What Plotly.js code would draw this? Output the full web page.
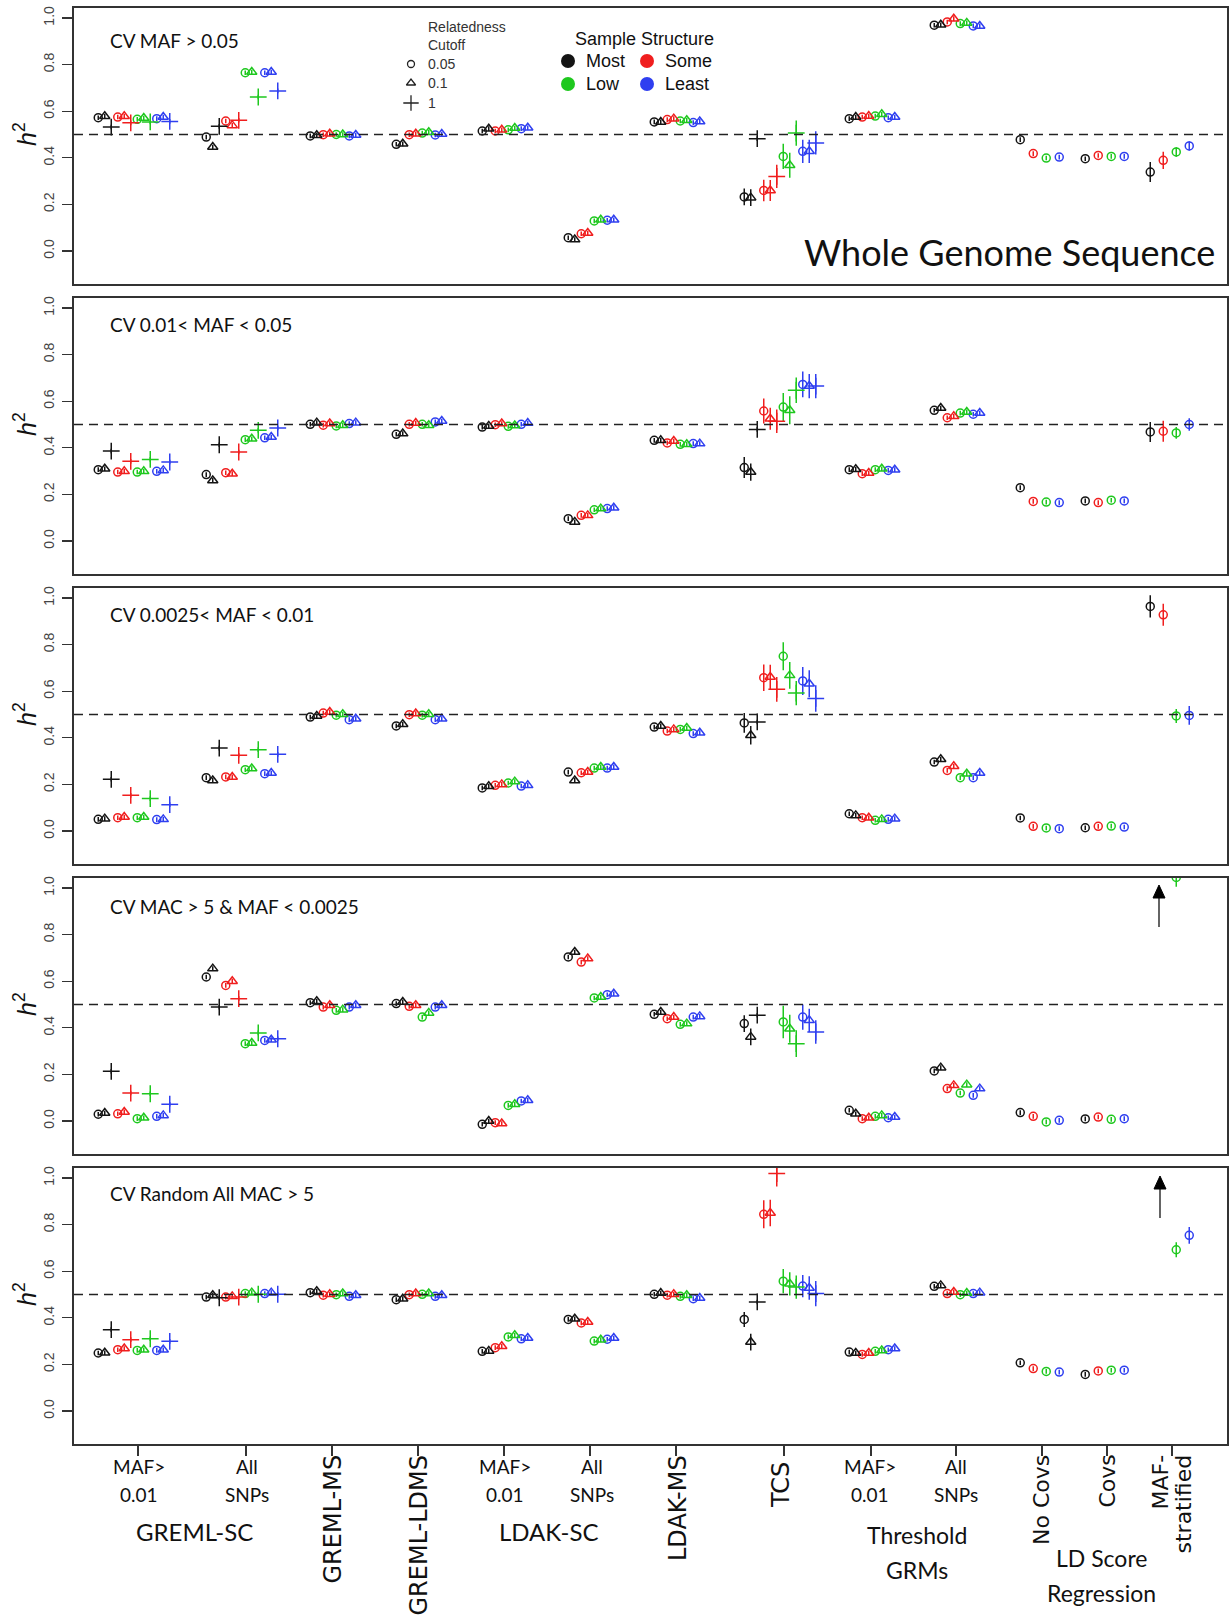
<!DOCTYPE html>
<html><head><meta charset="utf-8">
<script src="https://cdn.plot.ly/plotly-3.0.1.min.js"></script>
<style>body{margin:0;background:#fff}#chart{width:1229px;height:1615px}</style>
</head><body><div id="chart"></div><script>
// ---------------- DATA ----------------
const methods = ["GREML-SC MAF>0.01","GREML-SC All SNPs","GREML-MS","GREML-LDMS","LDAK-SC MAF>0.01","LDAK-SC All SNPs","LDAK-MS","TCS","Threshold MAF>0.01","Threshold All SNPs","LDSC No Covs","LDSC Covs","LDSC MAF-stratified"];
const structures = ["Most","Some","Low","Least"];
const cutoffs = ["0.05","0.1","1"];
const panelTitles = ["CV MAF &gt; 0.05","CV 0.01&lt; MAF &lt; 0.05","CV 0.0025&lt; MAF &lt; 0.01","CV MAC &gt; 5 &amp; MAF &lt; 0.0025","CV Random All MAC &gt; 5"];
const yTickVals = [0,0.2,0.4,0.6,0.8,1.0];
const yTickText = ["0.0","0.2","0.4","0.6","0.8","1.0"];
const trueH2 = 0.5;

// values: rows = methods, columns = [Most, Some, Low, Least]
const p1Circle = [[0.572,0.575,0.565,0.568],[0.489,0.558,0.765,0.765],[0.494,0.499,0.5,0.494],[0.458,0.499,0.506,0.498],[0.515,0.515,0.52,0.525],[0.057,0.074,0.129,0.132],[0.554,0.564,0.558,0.551],[0.232,0.26,0.406,0.428],[0.568,0.575,0.579,0.572],[0.969,0.983,0.976,0.966],[0.478,0.418,0.399,0.403],[0.396,0.41,0.406,0.406],[0.339,0.389,0.425,0.451]];
const p1Tri = [[0.578,0.578,0.571,0.575],[0.446,0.539,0.768,0.768],[0.497,0.503,0.5,0.498],[0.46,0.503,0.51,0.502],[0.525,0.52,0.528,0.529],[0.049,0.077,0.134,0.134],[0.554,0.568,0.561,0.556],[0.229,0.26,0.368,0.428],[0.575,0.579,0.587,0.575],[0.971,0.997,0.979,0.966],null,null,null];
const p1Plus = [[0.532,0.55,0.554,0.556],[0.535,0.561,0.661,0.687],null,null,null,null,null,[0.482,0.32,0.506,0.464],null,null,null,null,null];
const p1TcsErr = [[0.036,0.046,0.054,0.05],[0.036,0.045,0.054,0.05],[0.01,0.05,0.054,0.05]];
const p1StratErr = [0.043,0.037,0.02,0.02];

const p2Circle = [[0.306,0.296,0.296,0.299],[0.285,0.293,0.435,0.443],[0.501,0.497,0.494,0.504],[0.458,0.501,0.501,0.511],[0.489,0.499,0.492,0.501],[0.096,0.11,0.134,0.139],[0.432,0.421,0.415,0.418],[0.315,0.558,0.575,0.672],[0.306,0.289,0.306,0.303],[0.561,0.529,0.549,0.544],[0.229,0.17,0.167,0.165],[0.172,0.165,0.175,0.172],[0.468,0.471,0.464,0.5]];
const p2Tri = [[0.31,0.299,0.299,0.303],[0.26,0.289,0.439,0.446],[0.508,0.504,0.497,0.508],[0.461,0.506,0.497,0.515],[0.494,0.504,0.496,0.506],[0.082,0.11,0.139,0.143],[0.432,0.429,0.415,0.418],[0.296,0.525,0.561,0.665],[0.308,0.292,0.31,0.306],[0.571,0.535,0.554,0.549],null,null,null];
const p2Plus = [[0.386,0.342,0.35,0.339],[0.413,0.382,0.475,0.485],null,null,null,null,null,[0.479,0.514,0.647,0.665],null,null,null,null,null];
const p2TcsErr = [[0.045,0.054,0.06,0.055],[0.037,0.047,0.06,0.052],[0.01,0.05,0.055,0.052]];
const p2StratErr = [0.043,0.045,0.025,0.027];

const p3Circle = [[0.05,0.057,0.057,0.049],[0.229,0.232,0.263,0.246],[0.489,0.506,0.497,0.478],[0.451,0.499,0.497,0.478],[0.185,0.196,0.206,0.193],[0.253,0.25,0.27,0.27],[0.446,0.429,0.436,0.418],[0.464,0.658,0.75,0.644],[0.074,0.057,0.046,0.05],[0.296,0.26,0.229,0.229],[0.056,0.02,0.013,0.01],[0.014,0.02,0.021,0.017],[0.964,0.928,0.494,0.496]];
const p3Tri = [[0.053,0.06,0.06,0.05],[0.217,0.232,0.268,0.249],[0.494,0.511,0.501,0.482],[0.458,0.504,0.501,0.482],[0.192,0.2,0.212,0.196],[0.217,0.253,0.275,0.275],[0.451,0.436,0.442,0.422],[0.411,0.661,0.668,0.632],[0.067,0.057,0.05,0.053],[0.308,0.278,0.246,0.249],null,null,null];
const p3Plus = [[0.222,0.153,0.139,0.113],[0.356,0.325,0.349,0.329],null,null,null,null,null,[0.468,0.608,0.592,0.569],null,null,null,null,null];
const p3TcsErr = [[0.042,0.057,0.06,0.06],[0.04,0.053,0.057,0.058],[0.01,0.053,0.052,0.057]];
const p3StratErr = [0.048,0.047,0.03,0.04];

const p4Circle = [[0.029,0.031,0.01,0.02],[0.618,0.582,0.332,0.346],[0.508,0.489,0.475,0.489],[0.504,0.492,0.446,0.489],[-0.014,-0.007,0.067,0.086],[0.704,0.682,0.528,0.542],[0.458,0.439,0.415,0.446],[0.418,null,0.425,0.446],[0.046,0.01,0.02,0.014],[0.215,0.139,0.12,0.11],[0.036,0.02,-0.004,0.003],[0.009,0.017,0.007,0.01],[null,null,1.045,1.075]];
const p4Tri = [[0.034,0.039,0.014,0.024],[0.654,0.6,0.335,0.349],[0.514,0.497,0.478,0.497],[0.511,0.497,0.464,0.497],[0,-0.011,0.072,0.089],[0.725,0.697,0.532,0.546],[0.468,0.446,0.418,0.449],[0.361,null,0.396,0.432],[0.031,0.014,0.024,0.017],[0.229,0.153,0.156,0.139],null,null,null];
const p4Plus = [[0.213,0.12,0.117,0.072],[0.489,0.525,0.378,0.353],null,null,null,null,null,[0.454,null,0.332,0.382],null,null,null,null,null];
const p4TcsErr = [[0.036,0,0.07,0.054],[0.036,0,0.06,0.05],[0.01,0,0.057,0.05]];
const p4StratErr = [0,0,0.04,0.03];

const p5Circle = [[0.249,0.263,0.26,0.26],[0.489,0.489,0.504,0.504],[0.508,0.497,0.499,0.492],[0.478,0.499,0.501,0.492],[0.256,0.272,0.318,0.31],[0.393,0.378,0.3,0.308],[0.501,0.497,0.492,0.482],[0.393,0.844,0.557,0.536],[0.253,0.243,0.256,0.263],[0.535,0.504,0.499,0.504],[0.207,0.182,0.17,0.167],[0.157,0.172,0.175,0.175],[null,null,0.692,0.754]];
const p5Tri = [[0.25,0.268,0.263,0.263],[0.497,0.492,0.508,0.508],[0.514,0.501,0.504,0.497],[0.482,0.504,0.504,0.497],[0.258,0.278,0.325,0.313],[0.396,0.382,0.306,0.313],[0.506,0.501,0.497,0.485],[0.296,0.85,0.546,0.528],[0.249,0.249,0.26,0.268],[0.539,0.511,0.506,0.508],null,null,null];
const p5Plus = [[0.349,0.306,0.31,0.299],[0.486,0.489,0.501,0.501],null,null,null,null,null,[0.468,1.019,0.532,0.504],null,null,null,null,null];
const p5TcsErr = [[0.032,0.06,0.052,0.048],[0.036,0.057,0.05,0.05],[0.01,0.055,0.05,0.054]];
const p5StratErr = [0,0,0.032,0.036];

// ---------------- LAYOUT HELPERS ----------------
const W = 1229, H = 1615, ML = 74, MR = 2, MT = 8, MB = 171;
const PW = W - ML - MR, PH = H - MT - MB;
const YR = [-0.1416, 1.0429];
const panelTops = [8, 298, 588, 878, 1168];
const panelH = 276;
const groupX = [138, 246, 332, 418, 504, 590, 676, 784, 871, 956, 1042, 1107, 1172];
const groupKind = ['p','p','t','t','t','t','t','p','t','t','c','c','c'];
const colors = ['#141414', '#f01e1e', '#1ec81e', '#2f3ff0'];
const symbols = ['circle-open', 'triangle-up-open', 'cross-thin-open'];
const symSizes = [8, 9, 12];
const smallErr = 0.01;

const px = x => (x - ML) / PW;
const py = y => (H - MB - y) / PH;
const valAt = (pix, k) => YR[1] - (pix - panelTops[k]) / panelH * (YR[1] - YR[0]);
const valPerPx = (YR[1] - YR[0]) / panelH;

function xpos(g, s, c) {
  if (groupKind[g] === 'p') return groupX[g] - 4 + (s * 3 + c - 5.5) * 6.5;
  return groupX[g] + 1 + (s * 2 + c - 3.5) * 6.5;
}

const panels = [
  [p1Circle, p1Tri, p1Plus, p1TcsErr, p1StratErr],
  [p2Circle, p2Tri, p2Plus, p2TcsErr, p2StratErr],
  [p3Circle, p3Tri, p3Plus, p3TcsErr, p3StratErr],
  [p4Circle, p4Tri, p4Plus, p4TcsErr, p4StratErr],
  [p5Circle, p5Tri, p5Plus, p5TcsErr, p5StratErr]
];

const traces = [];
const layout = {
  width: W, height: H,
  margin: {l: ML, r: MR, t: MT, b: MB},
  paper_bgcolor: '#fff', plot_bgcolor: '#fff',
  showlegend: false,
  shapes: [], annotations: []
};

panels.forEach((pd, k) => {
  const sfx = k === 0 ? '' : String(k + 1);
  const [circ, tri, plus, tcsErr, stratErr] = pd;
  const sets = [circ, tri, plus];
  for (let c = 0; c < 3; c++) {
    for (let s = 0; s < 4; s++) {
      const xs = [], ys = [], es = [];
      sets[c].forEach((row, g) => {
        if (!row || row[s] === null || row[s] === undefined) return;
        xs.push(xpos(g, s, c));
        ys.push(row[s]);
        let e = smallErr;
        if (g === 7) e = tcsErr[c][s];
        if (g === 12) e = stratErr[s];
        es.push(e);
      });
      traces.push({
        type: 'scatter', mode: 'markers', x: xs, y: ys,
        xaxis: 'x' + sfx, yaxis: 'y' + sfx,
        name: structures[s] + ' / ' + cutoffs[c],
        marker: {symbol: symbols[c], size: symSizes[c], color: colors[s], line: {color: colors[s], width: 1.5}},
        error_y: {type: 'data', array: es, visible: true, thickness: 1.5, width: 0, color: colors[s]},
        hoverinfo: 'skip'
      });
    }
  }
  const top = panelTops[k];
  layout['xaxis' + sfx] = {
    domain: [0, 1], range: [ML, W - MR], anchor: 'y' + sfx,
    showline: true, mirror: true, linecolor: '#333', linewidth: 1.6,
    showgrid: false, zeroline: false, fixedrange: true,
    ticks: k === 4 ? 'outside' : '', tickvals: k === 4 ? groupX : [],
    ticklen: 10, tickwidth: 1.3, tickcolor: '#333', showticklabels: false
  };
  layout['yaxis' + sfx] = {
    domain: [py(top + panelH), py(top)], range: YR, anchor: 'x' + sfx,
    showline: true, mirror: true, linecolor: '#333', linewidth: 1.6,
    showgrid: false, zeroline: false, fixedrange: true,
    ticks: 'outside', tickvals: yTickVals, ticktext: yTickText, tickangle: -90,
    ticklen: 10, tickwidth: 1.3, tickcolor: '#333', ticklabelstandoff: 3,
    tickfont: {family: 'Liberation Sans, Arial, sans-serif', size: 14, color: '#444'}
  };
  layout.shapes.push({
    type: 'line', xref: 'x' + sfx + ' domain', yref: 'y' + sfx,
    x0: 0, x1: 1, y0: trueH2, y1: trueH2,
    line: {color: '#222', width: 1.6, dash: '9px,6px'}
  });
});

// ---------------- TEXT ----------------
function T(text, x, y, size, family, extra) {
  layout.annotations.push(Object.assign({
    text: text, x: px(x), y: py(y), xref: 'paper', yref: 'paper',
    showarrow: false, xanchor: 'center', yanchor: 'middle',
    font: {family: family, size: size, color: '#111'}
  }, extra || {}));
}
const LATO = 'Lato, sans-serif';
const ARIAL = 'Liberation Sans, Arial, sans-serif';
const DJV = 'DejaVu Sans, sans-serif';

const titleY = [41, 324, 615, 906, 1193];
panelTitles.forEach((t, k) => {
  T(t, 108, titleY[k], 19, LATO, {xanchor: 'left'});
  T('<i>h</i><sup>2</sup>', 25, panelTops[k] + 126, 25, ARIAL, {textangle: -90});
});
T('Whole Genome Sequence', 1009, 252, 36, LATO);

// legend
const legFont = {family: ARIAL, size: 14, color: '#333'};
T('Relatedness', 426, 27, 14, ARIAL, {xanchor: 'left', font: legFont});
T('Cutoff', 426, 45, 14, ARIAL, {xanchor: 'left', font: legFont});
cutoffs.forEach((c, i) => T(c, 426, [64, 83, 103][i], 14, ARIAL, {xanchor: 'left', font: legFont}));
T('Sample Structure', 573, 39, 18, ARIAL, {xanchor: 'left'});
const legPos = [[584, 61], [663, 61], [584, 84], [663, 84]];
structures.forEach((s, i) => T(s, legPos[i][0], legPos[i][1], 18, ARIAL, {xanchor: 'left'}));
// legend keys (drawn on panel-1 axes, converted from pixel positions)
[0, 1, 2].forEach(c => traces.push({
  type: 'scatter', mode: 'markers', x: [411], y: [valAt([64, 83, 103][c], 0)],
  marker: {symbol: symbols[c], size: symSizes[c] - 1, color: '#222', line: {color: '#222', width: 1.3}},
  hoverinfo: 'skip', cliponaxis: false
}));
traces.push({
  type: 'scatter', mode: 'markers', x: legPos.map(p => p[0] - 16), y: legPos.map(p => valAt(p[1], 0)),
  marker: {symbol: 'circle', size: 14, color: colors}, hoverinfo: 'skip', cliponaxis: false
});

// x-axis labels
const subLab = [[139, 'MAF&gt;', '0.01'], [247, 'All', 'SNPs'], [505, 'MAF&gt;', '0.01'], [592, 'All', 'SNPs'], [870, 'MAF&gt;', '0.01'], [956, 'All', 'SNPs']];
subLab.forEach(([x, a, b]) => { T(a, x, 1466, 19, LATO); T(b, x, 1495, 19, LATO); });
T('GREML-SC', 194, 1531, 24, LATO);
T('LDAK-SC', 549, 1531, 24, LATO);
T('Threshold', 917, 1535, 23, LATO);
T('GRMs', 917, 1570, 23, LATO);
T('LD Score', 1101, 1558, 23, LATO);
T('Regression', 1101, 1593, 23, LATO);
const rotLab = [[333, 'GREML-MS', 1453, 24], [419, 'GREML-LDMS', 1453, 24], [678, 'LDAK-MS', 1453, 24], [781, 'TCS', 1460, 24], [1042, 'No Covs', 1453, 22], [1107, 'Covs', 1453, 22], [1160, 'MAF-', 1453, 22], [1183, 'stratified', 1453, 22]];
rotLab.forEach(([x, t, y, sz]) => T(t, x, y, sz, DJV, {textangle: -90, yanchor: 'top'}));

// arrows (values beyond the plotted range): shaft + filled head
[[3, 1159, 885, 927], [4, 1160, 1176, 1218]].forEach(([k, x, yh, yt]) => {
  const sfx = String(k + 1);
  const vHead = valAt(yh, k), vTail = valAt(yt, k), vBase = vHead - 13 * valPerPx;
  layout.shapes.push({type: 'line', xref: 'x' + sfx, yref: 'y' + sfx, x0: x, x1: x, y0: vTail, y1: vBase,
    line: {color: '#111', width: 1.3}});
  layout.shapes.push({type: 'path', xref: 'x' + sfx, yref: 'y' + sfx,
    path: `M ${x - 6},${vBase} L ${x + 6},${vBase} L ${x},${vHead} Z`,
    fillcolor: '#000', line: {color: '#000', width: 1}});
});

Plotly.newPlot('chart', traces, layout, {staticPlot: true});
</script></body></html>
